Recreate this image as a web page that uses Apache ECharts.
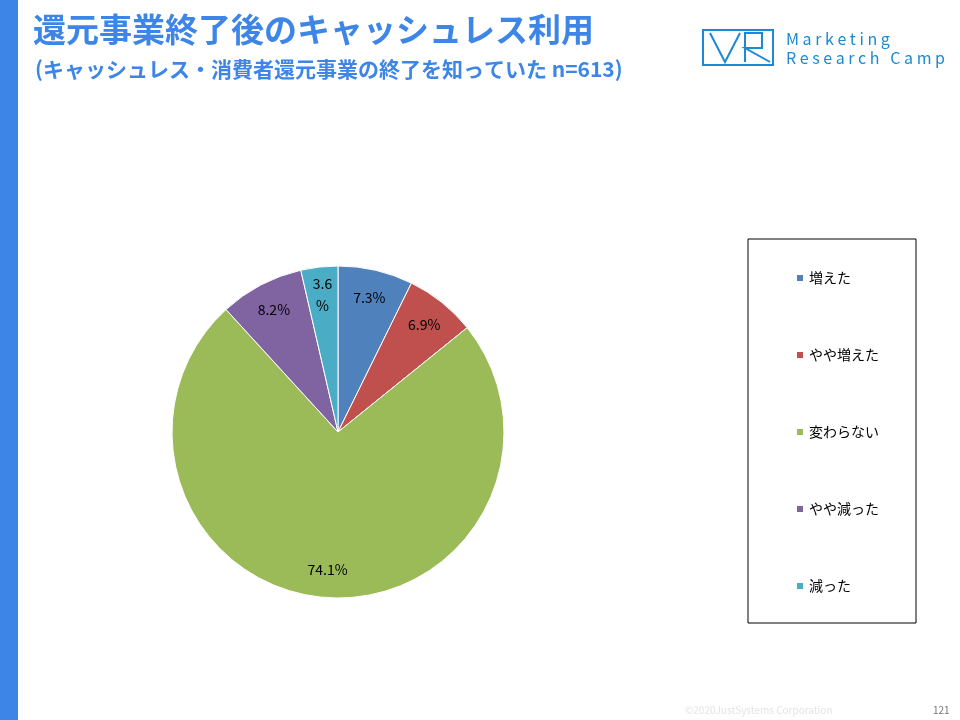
<!DOCTYPE html>
<html><head><meta charset="utf-8">
<script src="https://cdn.jsdelivr.net/npm/echarts@6/dist/echarts.min.js"></script>
<style>html,body{margin:0;background:#fff}#c{width:960px;height:720px}</style>
</head><body><div id="c"></div>
<script>
var categories = ["増えた", "やや増えた", "変わらない", "やや減った", "減った"];
var values = [7.3, 6.9, 74.1, 8.2, 3.6];
var colors = ["#4F81BD", "#C0504D", "#9BBB59", "#8064A2", "#4BACC6"];

var chart = echarts.init(document.getElementById("c"));
var font = '"Noto Sans CJK JP", sans-serif';
var sliceData = categories.map(function (c, i) {
  return { name: c, value: values[i], itemStyle: { color: colors[i] } };
});
var labelData = categories.map(function (c, i) {
  return {
    name: c, value: values[i],
    label: { formatter: values[i] < 5 ? values[i] + "\n%" : values[i] + "%" }
  };
});
chart.setOption({
  textStyle: { fontFamily: font },
  title: [
    { text: "還元事業終了後のキャッシュレス利用", left: 28, top: 8,
      textStyle: { color: "#3D86E8", fontSize: 33, fontWeight: "bold", fontFamily: font } },
    { text: "(キャッシュレス・消費者還元事業の終了を知っていた n=613)", left: 30, top: 54,
      textStyle: { color: "#3D86E8", fontSize: 21, fontWeight: "bold", fontFamily: font } },
    { text: "©2020JustSystems Corporation", left: 680, top: 700,
      textStyle: { color: "#e4e4e4", fontSize: 10, fontWeight: "normal" } },
    { text: "121", left: 928, top: 700,
      textStyle: { color: "#777", fontSize: 10, fontWeight: "normal" } }
  ],
  graphic: [
    { type: "rect", shape: { x: 0, y: 0, width: 18, height: 720 }, style: { fill: "#3D86E8" } },
    { type: "rect", shape: { x: 748, y: 239, width: 168, height: 384 },
      style: { fill: "none", stroke: "#000", lineWidth: 1 } },
    { type: "rect", shape: { x: 703, y: 30, width: 70, height: 35 },
      style: { fill: "none", stroke: "#1a8ad4", lineWidth: 2 } },
    { type: "polyline", shape: { points: [[710, 33], [725, 62], [740, 33]] },
      style: { fill: "none", stroke: "#1a8ad4", lineWidth: 2 } },
    { type: "polyline", shape: { points: [[745, 62], [745, 33], [762, 33], [762, 48], [745, 48], [770, 62]] },
      style: { fill: "none", stroke: "#1a8ad4", lineWidth: 2 } },
    { type: "text", left: 786, top: 29,
      style: { text: "M a r k e t i n g\nR e s e a r c h   C a m p", fill: "#1a8ad4",
        font: "16px " + font, lineHeight: 19 } }
  ],
  legend: {
    orient: "vertical", left: 790, top: 266, itemGap: 63,
    itemWidth: 8, itemHeight: 8, icon: "rect",
    data: categories,
    textStyle: { fontSize: 14, color: "#000", fontFamily: font }
  },
  series: [
    {
      type: "pie", center: [338, 432], radius: 166, startAngle: 90,
      data: sliceData, label: { show: false },
      itemStyle: { borderColor: "#fff", borderWidth: 1 }, emphasis: { disabled: true }
    },
    {
      type: "pie", center: [338, 432], radius: 270, startAngle: 90, silent: true,
      data: labelData, itemStyle: { color: "transparent" }, legendHoverLink: false,
      label: { position: "inside", color: "#000", fontSize: 14, fontFamily: font, lineHeight: 22 }
    }
  ]
});
</script></body></html>
